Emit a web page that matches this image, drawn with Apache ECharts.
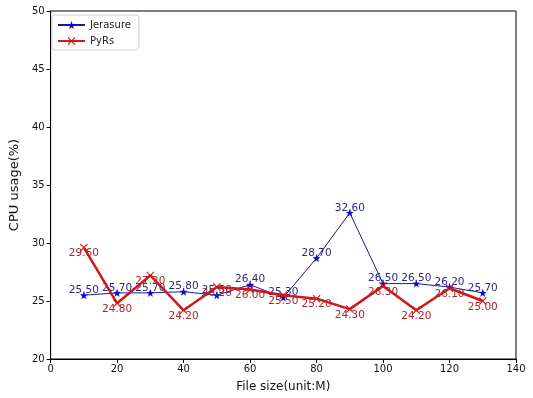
<!DOCTYPE html>
<html>
<head>
<meta charset="utf-8">
<script src="https://cdn.jsdelivr.net/npm/echarts@6/dist/echarts.min.js"></script>
<style>
  html, body { margin: 0; padding: 0; background: #fff; }
  #chart { width: 533px; height: 398px; }
</style>
</head>
<body>
<div id="chart"></div>
<script>
// File sizes (MB) at which CPU usage was measured
const fileSizes = [10, 20, 30, 40, 50, 60, 70, 80, 90, 100, 110, 120, 130];
// CPU usage (%) per library
const jerasure = [25.5, 25.7, 25.7, 25.8, 25.5, 26.4, 25.3, 28.7, 32.6, 26.5, 26.5, 26.2, 25.7];
const pyrs = [29.6, 24.8, 27.2, 24.2, 26.2, 26.0, 25.5, 25.2, 24.3, 26.3, 24.2, 26.1, 25.0];
const seriesNames = ['Jerasure', 'PyRs'];

const FONT = 'DejaVu Sans';
const starPath = 'path://M0,-10 L2.35,-3.24 L9.51,-3.09 L3.8,1.24 L5.88,8.09 L0,4 L-5.88,8.09 L-3.8,1.24 L-9.51,-3.09 L-2.35,-3.24 Z';
const crossPath = 'path://M-10,-8 L-8,-10 L0,-2 L8,-10 L10,-8 L2,0 L10,8 L8,10 L0,2 L-8,10 L-10,8 L-2,0 Z';

const pairs = (ys) => fileSizes.map((x, i) => [x, ys[i]]);

const chart = echarts.init(document.getElementById('chart'), null, { renderer: 'canvas' });
chart.setOption({
  animation: false,
  backgroundColor: '#fff',
  textStyle: { fontFamily: FONT },
  grid: {
    left: 48, top: 11, width: 468, height: 348,
    show: true, borderColor: '#000', borderWidth: 1, backgroundColor: 'transparent'
  },
  legend: {
    orient: 'vertical',
    left: 52, top: 15,
    padding: [5, 8, 4, 5],
    itemGap: 6,
    itemWidth: 27, itemHeight: 10,
    backgroundColor: '#fff',
    borderColor: '#d0d0d0', borderWidth: 1, borderRadius: 3,
    textStyle: { fontFamily: FONT, fontSize: 10, color: '#222' },
    data: seriesNames
  },
  xAxis: {
    type: 'value', min: 0, max: 140, interval: 20,
    name: 'File size(unit:M)', nameLocation: 'middle', nameGap: 22,
    nameTextStyle: { fontFamily: FONT, fontSize: 12, color: '#111' },
    axisLine: { lineStyle: { color: '#000', width: 1 } },
    axisTick: { show: true, inside: false, length: 4, lineStyle: { color: '#000' } },
    axisLabel: { fontFamily: FONT, fontSize: 10, color: '#111', margin: 5 },
    splitLine: { show: false }
  },
  yAxis: {
    type: 'value', min: 20, max: 50, interval: 5,
    name: 'CPU usage(%)', nameLocation: 'middle', nameGap: 28,
    nameTextStyle: { fontFamily: FONT, fontSize: 13, color: '#111' },
    axisLine: { show: true, lineStyle: { color: '#000', width: 1 } },
    axisTick: { show: true, inside: false, length: 4, lineStyle: { color: '#000' } },
    axisLabel: { fontFamily: FONT, fontSize: 10, color: '#111', margin: 6 },
    splitLine: { show: false }
  },
  series: [
    {
      name: seriesNames[0],
      type: 'line',
      data: pairs(jerasure),
      symbol: starPath, symbolSize: 8,
      itemStyle: { color: '#0a0acc' },
      lineStyle: { color: '#1a1a9a', width: 1 },
      label: {
        show: true, position: 'inside', offset: [0, -5],
        fontFamily: FONT, fontSize: 10.5, color: '#2a2a80',
        formatter: (p) => p.value[1].toFixed(2)
      },
      z: 3
    },
    {
      name: seriesNames[1],
      type: 'line',
      data: pairs(pyrs),
      symbol: crossPath, symbolSize: 8,
      itemStyle: { color: '#d01818' },
      lineStyle: { color: '#d01818', width: 2.5 },
      label: {
        show: true, position: 'inside', offset: [0, 6],
        fontFamily: FONT, fontSize: 10.5, color: '#a82828',
        formatter: (p) => p.value[1].toFixed(2)
      },
      z: 4
    }
  ]
});
</script>
</body>
</html>
